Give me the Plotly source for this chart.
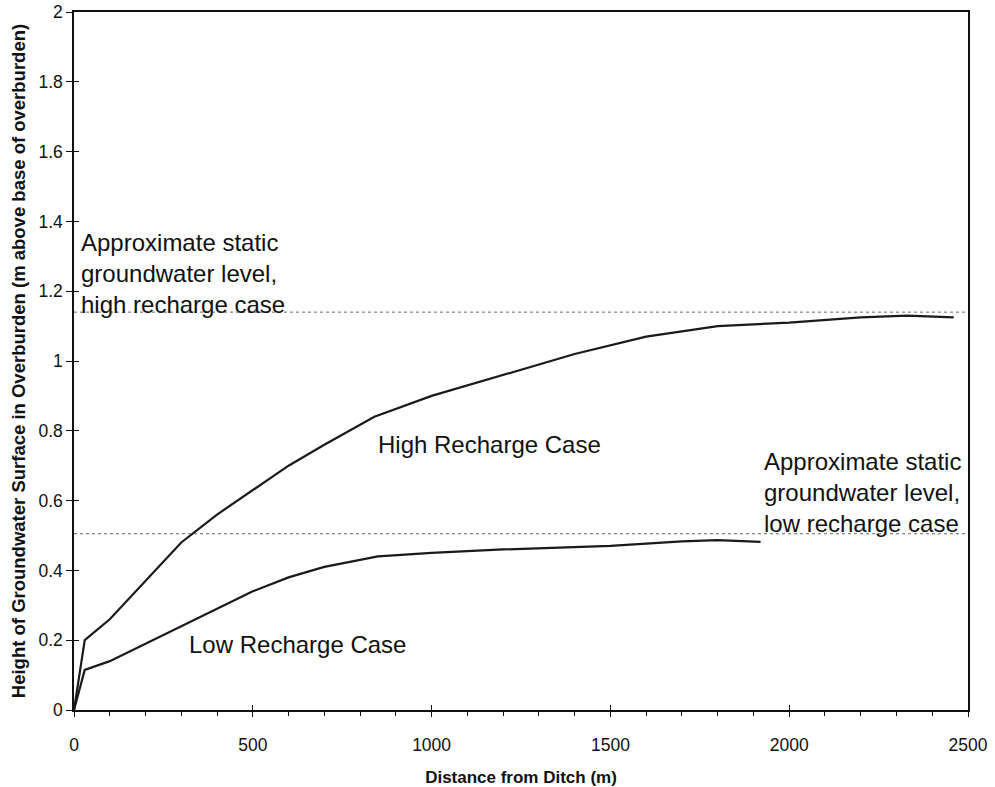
import plotly.graph_objects as go

# Water-table profiles (distance from ditch in m, height in m above base of overburden)
high_x = [0, 30, 100, 200, 300, 400, 500, 600, 700, 840, 1000, 1200, 1400, 1600, 1800, 2000, 2200, 2330, 2460]
high_y = [0, 0.20, 0.26, 0.37, 0.48, 0.56, 0.63, 0.70, 0.76, 0.84, 0.90, 0.96, 1.02, 1.07, 1.10, 1.11, 1.125, 1.13, 1.125]

low_x = [0, 30, 100, 200, 300, 400, 500, 600, 700, 850, 1000, 1200, 1500, 1700, 1800, 1920]
low_y = [0, 0.115, 0.14, 0.19, 0.24, 0.29, 0.34, 0.38, 0.41, 0.44, 0.45, 0.46, 0.47, 0.483, 0.487, 0.482]

# Approximate static groundwater levels
static_x = [0, 2500]
static_high = [1.14, 1.14]
static_low = [0.505, 0.505]

x_ticks = [0, 500, 1000, 1500, 2000, 2500]
y_ticks = [0, 0.2, 0.4, 0.6, 0.8, 1, 1.2, 1.4, 1.6, 1.8, 2]
y_tick_text = ["0", "0.2", "0.4", "0.6", "0.8", "1", "1.2", "1.4", "1.6", "1.8", "2"]

FONT = "Liberation Sans, Arial, sans-serif"
INK = "#111111"

fig = go.Figure()

# static levels are drawn on the overlay axes (identical ranges) so those axes render
for ys in (static_high, static_low):
    fig.add_trace(go.Scatter(
        x=static_x, y=ys, mode="lines", xaxis="x2", yaxis="y2",
        line=dict(color="#666666", width=1, dash="dot"),
        hoverinfo="skip", showlegend=False,
    ))

for xs, ys in ((high_x, high_y), (low_x, low_y)):
    fig.add_trace(go.Scatter(
        x=xs, y=ys, mode="lines",
        line=dict(color="#1a1a1a", width=2.2),
        showlegend=False,
    ))

text_font = dict(family=FONT, size=24, color=INK)
annotations = [
    dict(x=15, y=1.25, text="Approximate static<br>groundwater level,<br>high recharge case",
         xanchor="left", yanchor="middle", align="left"),
    dict(x=1925, y=0.624, text="Approximate static<br>groundwater level,<br>low recharge case",
         xanchor="left", yanchor="middle", align="left"),
    dict(x=1162, y=0.76, text="High Recharge Case", xanchor="center", yanchor="middle"),
    dict(x=626, y=0.189, text="Low Recharge Case", xanchor="center", yanchor="middle"),
]
for a in annotations:
    fig.add_annotation(showarrow=False, font=text_font, **a)

fig.update_layout(
    width=995, height=787,
    margin=dict(l=74, r=27, t=12, b=77),
    paper_bgcolor="white", plot_bgcolor="white",
    font=dict(family=FONT, size=17.5, color=INK),
    xaxis=dict(
        range=[0, 2500], tickvals=x_ticks, showgrid=False, zeroline=False, automargin=False,
        showline=True, linecolor=INK, linewidth=1.5, mirror=True,
        ticks="outside", ticklen=5, tickcolor=INK, tickwidth=1,
        ticklabelstandoff=13,
        minor=dict(dtick=100, ticks="outside", ticklen=4, tickcolor=INK, showgrid=False),
        title=dict(text="<b>Distance from Ditch (m)</b>", font=dict(size=17), standoff=17),
    ),
    yaxis=dict(
        range=[0, 2], tickvals=y_ticks, ticktext=y_tick_text, showgrid=False, zeroline=False,
        automargin=False,
        showline=True, linecolor=INK, linewidth=1.5, mirror=True,
        ticks="outside", ticklen=6, tickcolor=INK, tickwidth=1,
        title=dict(text="<b>Height of Groundwater Surface in Overburden (m above base of overburden)</b>",
                   font=dict(size=18.5), standoff=8),
    ),
    # overlay axes supply the inward half of the crossing major ticks
    xaxis2=dict(
        overlaying="x", range=[0, 2500], tickvals=x_ticks, showticklabels=False,
        showgrid=False, zeroline=False, showline=False, automargin=False,
        ticks="inside", ticklen=5, tickcolor=INK, tickwidth=1,
    ),
    yaxis2=dict(
        overlaying="y", range=[0, 2], tickvals=y_ticks, showticklabels=False,
        showgrid=False, zeroline=False, showline=False, automargin=False,
        ticks="inside", ticklen=5, tickcolor=INK, tickwidth=1,
    ),
)

fig.write_html("out.html")
